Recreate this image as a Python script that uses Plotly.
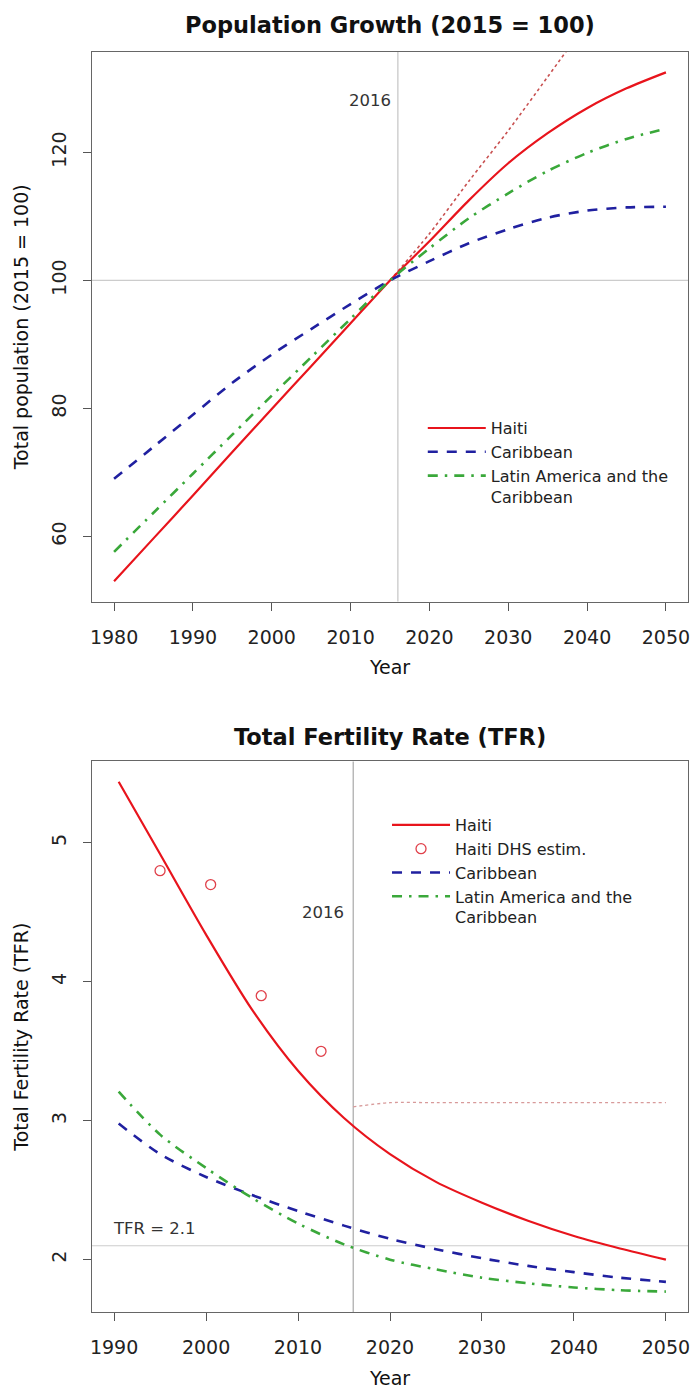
import plotly.graph_objects as go

# ---------------- data ----------------
POP_YEARS = [1980, 1985, 1990, 1995, 2000, 2005, 2010, 2015, 2020, 2025, 2030, 2035, 2040, 2045, 2050]
POP_HAITI = [53.0, 59.7, 66.4, 73.2, 79.9, 86.6, 93.3, 100.0, 106.1, 112.5, 118.3, 123.0, 126.9, 130.0, 132.5]
POP_CARIB = [69.0, 74.0, 79.0, 84.0, 88.4, 92.4, 96.3, 100.0, 103.0, 105.8, 108.0, 109.8, 110.9, 111.4, 111.5]
POP_LAC = [57.6, 63.7, 69.8, 75.9, 82.0, 88.0, 94.0, 100.0, 105.0, 109.7, 113.6, 117.1, 119.9, 122.1, 123.7]
POP_VAR_YEARS = [2015, 2020, 2025, 2030, 2035, 2040, 2045, 2050]
POP_HAITI_VAR = [100.0, 107.3, 115.5, 123.4, 131.8, 140.3, 149.0, 157.5]

TFR_YEARS = [1990.5, 1995, 2000, 2005, 2010, 2015, 2020, 2025, 2030, 2035, 2040, 2045, 2050]
TFR_HAITI = [5.44, 4.92, 4.34, 3.80, 3.36, 3.02, 2.76, 2.56, 2.41, 2.28, 2.17, 2.08, 2.00]
TFR_CARIB = [2.98, 2.76, 2.595, 2.465, 2.35, 2.245, 2.15, 2.075, 2.01, 1.955, 1.91, 1.87, 1.84]
TFR_LAC = [3.21, 2.90, 2.66, 2.445, 2.26, 2.11, 2.00, 1.93, 1.87, 1.83, 1.80, 1.78, 1.77]
TFR_VAR_YEARS = [2016, 2020, 2025, 2030, 2035, 2040, 2045, 2050]
TFR_HAITI_VAR = [3.10, 3.13, 3.13, 3.13, 3.13, 3.13, 3.13, 3.13]
DHS_YEARS = [1995, 2000.5, 2006, 2012.5]
DHS_TFR = [4.8, 4.7, 3.9, 3.5]

REF_YEAR = 2016
BASE = 100
TFR_REPL = 2.1
POP_XTICKS = [1980, 1990, 2000, 2010, 2020, 2030, 2040, 2050]
POP_YTICKS = [60, 80, 100, 120]
TFR_XTICKS = [1990, 2000, 2010, 2020, 2030, 2040, 2050]
TFR_YTICKS = [2, 3, 4, 5]
POP_LABEL_Y = 128.1
TFR_LABEL_Y = 4.5
REPL_LABEL_X = 1990

# ---------------- style ----------------
RED = "#e8141c"
BLUE = "#2020a0"
GREEN = "#3aa83a"
FONT = "DejaVu Sans"
W_RED = 2.2
W_DASH = 2.6

fig = go.Figure()

def add_series(x, y, name, color, dash, width, xa, ya, legend, showlegend=True):
    fig.add_trace(go.Scatter(
        x=x, y=y, name=name, mode="lines",
        line=dict(color=color, dash=dash, width=width, shape="spline", smoothing=0.8),
        xaxis=xa, yaxis=ya, legend=legend, showlegend=showlegend, hoverinfo="skip"))

DASHED = "10px,9px"
DOTDASH = "10px,7px,2.5px,7px"

# top panel
add_series(POP_VAR_YEARS, POP_HAITI_VAR, "Haiti variant", "#c85050", "dot", 1.6, "x", "y", "legend", False)
add_series(POP_YEARS, POP_HAITI, "Haiti", RED, "solid", W_RED, "x", "y", "legend")
add_series(POP_YEARS, POP_CARIB, "Caribbean", BLUE, DASHED, W_DASH, "x", "y", "legend")
add_series(POP_YEARS, POP_LAC, "Latin America and the<br>Caribbean", GREEN, DOTDASH, W_DASH, "x", "y", "legend")

# bottom panel
add_series(TFR_VAR_YEARS, TFR_HAITI_VAR, "Haiti variant", "#d89a9a", "dot", 1.3, "x2", "y2", "legend2", False)
add_series(TFR_YEARS, TFR_HAITI, "Haiti", RED, "solid", W_RED, "x2", "y2", "legend2")
fig.add_trace(go.Scatter(
    x=DHS_YEARS, y=DHS_TFR, name="Haiti DHS estim.", mode="markers",
    marker=dict(symbol="circle-open", size=10, color="#e0404a", line=dict(width=1.3)),
    xaxis="x2", yaxis="y2", legend="legend2", hoverinfo="skip"))
add_series(TFR_YEARS, TFR_CARIB, "Caribbean", BLUE, DASHED, W_DASH, "x2", "y2", "legend2")
add_series(TFR_YEARS, TFR_LAC, "Latin America and the<br>Caribbean", GREEN, DOTDASH, W_DASH, "x2", "y2", "legend2")

def r_range(lo, hi):
    d = (hi - lo) * 0.04
    return [lo - d, hi + d]

pop_xr = r_range(min(POP_YEARS), max(POP_YEARS))
pop_yr = r_range(min(POP_HAITI), max(POP_HAITI))
tfr_xr = r_range(1990, max(TFR_YEARS))
tfr_yr = r_range(min(TFR_LAC), max(TFR_HAITI))

tickfont = dict(family=FONT, size=19, color="#222")
titlefont = dict(family=FONT, size=19, color="#111")
common_axis = dict(showgrid=False, zeroline=False, showline=True, mirror=True,
                   linecolor="#666", linewidth=1.3, ticks="outside", ticklen=8,
                   tickcolor="#555", tickwidth=1.2, tickfont=tickfont)

legend_common = dict(xanchor="left", yanchor="top", bgcolor="rgba(0,0,0,0)", borderwidth=0,
                     valign="top", itemwidth=58, tracegroupgap=0,
                     font=dict(family=FONT, size=16, color="#222"))

fig.update_layout(
    width=696, height=1391,
    margin=dict(l=92, r=6, t=52, b=78),
    paper_bgcolor="white", plot_bgcolor="white",
    font=dict(family=FONT, color="#222"),
    xaxis=dict(domain=[0, 1], anchor="y", range=pop_xr, tickvals=POP_XTICKS,
               ticklabelstandoff=10,
               title=dict(text="Year", font=titlefont, standoff=14), **common_axis),
    yaxis=dict(domain=[0.5638, 1], anchor="x", range=pop_yr, tickvals=POP_YTICKS,
               tickangle=-90, ticklabelstandoff=9,
               title=dict(text="Total population (2015 = 100)", font=titlefont, standoff=14),
               **common_axis),
    xaxis2=dict(domain=[0, 1], anchor="y2", range=tfr_xr, tickvals=TFR_XTICKS,
                ticklabelstandoff=10,
                title=dict(text="Year", font=titlefont, standoff=14), **common_axis),
    yaxis2=dict(domain=[0, 0.4370], anchor="x2", range=tfr_yr, tickvals=TFR_YTICKS,
                tickangle=-90, ticklabelstandoff=9,
                title=dict(text="Total Fertility Rate (TFR)", font=titlefont, standoff=14),
                **common_axis),
    legend=dict(x=0.555, y=0.715, **legend_common),
    legend2=dict(x=0.495, y=0.400, **legend_common),
    showlegend=True,
)

# reference lines
fig.add_shape(type="line", xref="x", yref="y domain", x0=REF_YEAR, x1=REF_YEAR, y0=0, y1=1,
              line=dict(color="#c4c4c4", width=1.2), layer="below")
fig.add_shape(type="line", xref="x domain", yref="y", x0=0, x1=1, y0=BASE, y1=BASE,
              line=dict(color="#cccccc", width=1.2), layer="below")
fig.add_shape(type="line", xref="x2", yref="y2 domain", x0=REF_YEAR, x1=REF_YEAR, y0=0, y1=1,
              line=dict(color="#a8a8a8", width=1.2), layer="below")
fig.add_shape(type="line", xref="x2 domain", yref="y2", x0=0, x1=1, y0=TFR_REPL, y1=TFR_REPL,
              line=dict(color="#cccccc", width=1.2), layer="below")

# titles and labels
fig.add_annotation(text="<b>Population Growth (2015 = 100)</b>", xref="paper", yref="paper",
                   x=0.5, y=1.0214, xanchor="center", yanchor="middle", showarrow=False,
                   font=dict(family=FONT, size=22.5, color="#111"))
fig.add_annotation(text="<b>Total Fertility Rate (TFR)</b>", xref="paper", yref="paper",
                   x=0.5, y=0.456, xanchor="center", yanchor="middle", showarrow=False,
                   font=dict(family=FONT, size=22.5, color="#111"))
fig.add_annotation(text=str(REF_YEAR), xref="x", yref="y", x=REF_YEAR, y=POP_LABEL_Y,
                   xanchor="right", yanchor="middle", xshift=-5, showarrow=False,
                   font=dict(family=FONT, size=16.5, color="#333"))
fig.add_annotation(text=str(REF_YEAR), xref="x2", yref="y2", x=REF_YEAR, y=TFR_LABEL_Y,
                   xanchor="right", yanchor="middle", xshift=-7, showarrow=False,
                   font=dict(family=FONT, size=16.5, color="#333"))
fig.add_annotation(text="TFR = %s" % TFR_REPL, xref="x2", yref="y2", x=REPL_LABEL_X, y=TFR_REPL,
                   xanchor="left", yanchor="bottom", yshift=6, xshift=-3, showarrow=False,
                   font=dict(family=FONT, size=16.5, color="#333"))

fig.write_html("out.html")
